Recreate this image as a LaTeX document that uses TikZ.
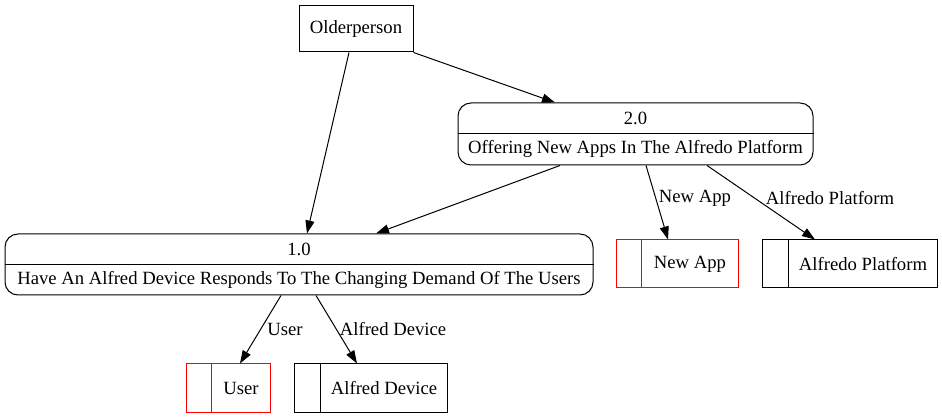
\documentclass[tikz,border=0pt]{standalone}
\usepackage{fontspec}
\setmainfont{Liberation Serif}
\usetikzlibrary{arrows.meta}
\begin{document}
\begin{tikzpicture}[x=1pt,y=-1pt,
  every node/.style={font=\fontsize{18.67}{22}\selectfont, inner sep=0pt},
  ent/.style={draw, line width=1pt, minimum width=114pt, minimum height=46pt},
  proc/.style={draw, line width=1pt, rounded corners=13pt, minimum height=62pt},
  store/.style={draw, line width=1pt, minimum height=48pt},
  flow/.style={line width=1pt, -{Triangle[length=13pt,width=9pt]}},
  elabel/.style={font=\fontsize{18.67}{22}\selectfont}
]
\useasboundingbox (0,0) rectangle (942,419);
% entity
\node[ent] (old) at (356,29) {Olderperson};
% process 2.0
\node[proc, minimum width=355pt] (p2) at (635.5,134) {};
\draw[line width=1pt] (p2.west) -- (p2.east);
\node (p2id) at (635.5,118) {2.0};
\node (p2t) at (635.5,149) {Offering New Apps In The Alfredo Platform};
% process 1.0
\node[proc, minimum width=588pt, minimum height=61pt] (p1) at (299,264.5) {};
\draw[line width=1pt] ([yshift=-0.5pt]p1.west) -- ([yshift=-0.5pt]p1.east);
\node (p1id) at (299,249) {1.0};
\node (p1t) at (299,280) {Have An Alfred Device Responds To The Changing Demand Of The Users};
% stores
\node[store, red, minimum width=122pt] (newapp) at (677,264) {};
\draw[red, line width=1pt] ([xshift=26pt]newapp.north west) -- ([xshift=26pt]newapp.south west);
\node (newappt) at (690,264) {New App};
\node[store, minimum width=175pt] (alfp) at (849.5,264) {};
\draw[line width=1pt] ([xshift=27pt]alfp.north west) -- ([xshift=27pt]alfp.south west);
\node (alfpt) at (863,264) {Alfredo Platform};
\node[store, red, minimum width=84pt] (user) at (228,388) {};
\draw[red, line width=1pt] ([xshift=26pt]user.north west) -- ([xshift=26pt]user.south west);
\node (usert) at (241,388) {User};
\node[store, minimum width=153pt] (alfd) at (370.5,388) {};
\draw[line width=1pt] ([xshift=27pt]alfd.north west) -- ([xshift=27pt]alfd.south west);
\node (alfdt) at (384,388) {Alfred Device};
% flows
\draw[flow] ([xshift=-7pt]old.south) -- ([xshift=8pt]p1.north);
\draw[flow] (old.south east) -- ([xshift=-80.5pt]p2.north);
\draw[flow] ([xshift=-75.5pt]p2.south) -- ([xshift=77pt]p1.north);
\draw[flow] ([xshift=10.5pt]p2.south) -- ([xshift=-9pt]newapp.north);
\draw[flow] ([xshift=71.5pt]p2.south) -- ([xshift=-34.5pt]alfp.north);
\draw[flow] ([xshift=-18pt]p1.south) -- ([xshift=12pt]user.north);
\draw[flow] ([xshift=17pt]p1.south) -- ([xshift=-13.5pt]alfd.north);
% flow labels
\node[elabel] (l1) at (695,198) {New App};
\node[elabel] (l2) at (830,198) {Alfredo Platform};
\node[elabel] (l3) at (285,329) {User};
\node[elabel] (l4) at (393,329) {Alfred Device};
\end{tikzpicture}
\end{document}
